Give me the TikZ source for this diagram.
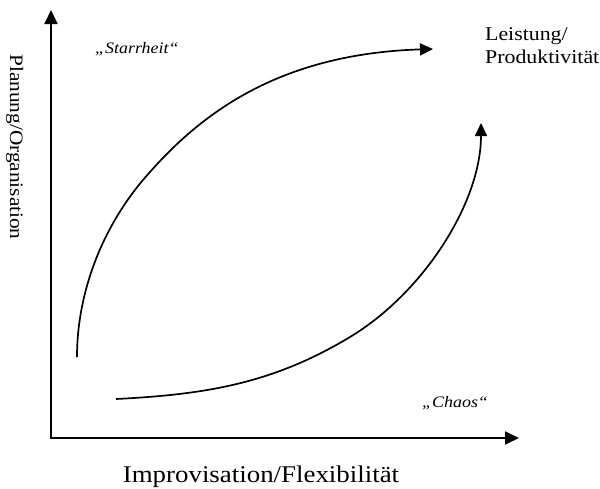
\documentclass[tikz,border=0pt]{standalone}
\usepackage{fontspec}
\setmainfont{Liberation Serif}[FakeStretch=1.12]
\usetikzlibrary{arrows.meta}
\tikzset{
  axis/.style={line width=1.8pt, -{Triangle[length=14pt,width=13pt]}},
  curve/.style={line width=1.7pt, -{Triangle[length=13pt,width=12pt]}},
  lbl/.style={inner sep=0pt, text=black},
}
\begin{document}
\begin{tikzpicture}[x=1pt,y=-1pt]
\useasboundingbox (0,0) rectangle (600,488);
% axes
\coordinate (O) at (51,438);
\coordinate (ytop) at (51,10);
\coordinate (xend) at (519,438);
\draw[axis] (O) -- (ytop);
\draw[axis] ([xshift=-0.9pt]O) -- (xend);
% curves
\coordinate (s1) at (77,357);
\coordinate (m1) at (143,180);
\coordinate (e1) at (433,49);
\draw[curve] (s1) .. controls (77,290) and (104,226) .. (m1)
                  .. controls (195,119) and (273,54) .. (e1);
\coordinate (s2) at (116,399);
\coordinate (m2) at (350,337);
\coordinate (e2) at (481,123);
\draw[curve] (s2) .. controls (206,394.5) and (273,383.4) .. (m2)
                  .. controls (423,293) and (481,203) .. (e2);
% labels
\node[lbl, anchor=base west, font=\fontsize{16}{19}\selectfont\itshape] (starr) at (95,53) {„Starrheit“};
\node[lbl, anchor=base west, font=\fontsize{16}{19}\selectfont\itshape] (chaos) at (422,407) {„Chaos“};
\node[lbl, anchor=base west, font=\fontsize{19.5}{23}\selectfont] (leist) at (485,40) {Leistung/};
\node[lbl, anchor=base west, font=\fontsize{19.5}{23}\selectfont] (prod) at (485,63) {Produktivität};
\node[lbl, anchor=base, font=\fontsize{24}{28}\selectfont] (impro) at (261,482) {Improvisation/Flexibilität};
\node[lbl, anchor=base, rotate=-90, font=\fontsize{19}{22}\selectfont] (plan) at (10,147) {Planung/Organisation};
\end{tikzpicture}
\end{document}
